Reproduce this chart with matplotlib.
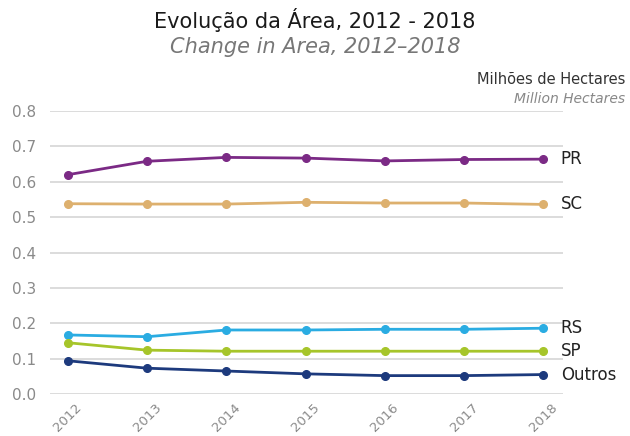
import matplotlib
matplotlib.use("Agg")
import matplotlib.pyplot as plt

plt.rcParams['font.family'] = ['DejaVu Sans']

years = [2012, 2013, 2014, 2015, 2016, 2017, 2018]
pr = [0.620, 0.658, 0.669, 0.667, 0.659, 0.663, 0.664]
sc = [0.538, 0.537, 0.537, 0.542, 0.540, 0.540, 0.536]
rs = [0.167, 0.162, 0.181, 0.181, 0.183, 0.183, 0.186]
sp = [0.145, 0.124, 0.121, 0.121, 0.121, 0.121, 0.121]
outros = [0.094, 0.073, 0.065, 0.057, 0.052, 0.052, 0.055]
series = [("PR", pr, "#7B2A85"), ("SC", sc, "#DDB06E"), ("RS", rs, "#2AACE2"),
          ("SP", sp, "#A6C52A"), ("Outros", outros, "#1D3A7D")]
yticks = [0.0, 0.1, 0.2, 0.3, 0.4, 0.5, 0.6, 0.7, 0.8]

fig = plt.figure(figsize=(6.3, 4.36), dpi=100)
ax = fig.add_axes([0.079, 0.0963, 0.815, 0.649])
for name, vals, col in series:
    ax.plot(years, vals, color=col, lw=2, marker='o', ms=5.5, clip_on=False, zorder=3)
    ax.text(2018 + 0.22, vals[-1], name, fontsize=12, color='#222222',
            va='center', ha='left')

ax.set_xlim(2011.773, 2018.25)
ax.set_ylim(0, 0.8)
ax.set_yticks(yticks)
ax.set_yticklabels([f"{v:.1f}" for v in yticks])
ax.set_xticks(years)
ax.set_xticklabels([str(y) for y in years], rotation=45, ha='center')
ax.grid(axis='y', color='#D9D9D9', lw=1.3)
ax.set_axisbelow(True)
for s in ax.spines.values():
    s.set_visible(False)
ax.tick_params(axis='y', length=0, colors='#8A8A8A', labelsize=11, pad=10)
ax.tick_params(axis='x', length=0, colors='#8A8A8A', labelsize=9.5, pad=5)

fig.text(0.5, 0.955, "Evolução da Área, 2012 - 2018", ha='center', va='center',
         fontsize=15, color='#1A1A1A')
fig.text(0.5, 0.892, "Change in Area, 2012–2018", ha='center', va='center',
         fontsize=15, color='#777777', style='italic')
fig.text(0.992, 0.817, "Milhões de Hectares", ha='right', va='center',
         fontsize=10.5, color='#333333')
fig.text(0.992, 0.772, "Million Hectares", ha='right', va='center',
         fontsize=10, color='#888888', style='italic')

fig.savefig("out.png", dpi=100)
